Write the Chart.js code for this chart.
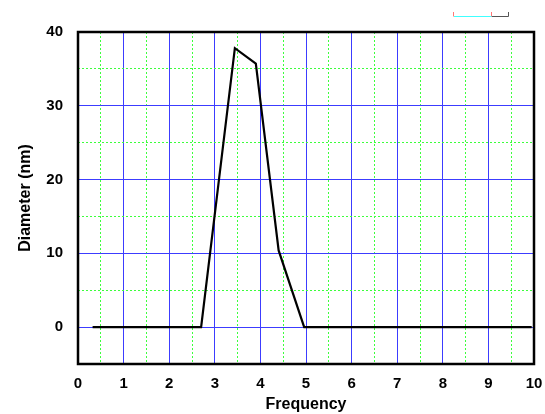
<!DOCTYPE html>
<html>
<head>
<meta charset="utf-8">
<script src="https://cdn.jsdelivr.net/npm/chart.js@4.4.1/dist/chart.umd.min.js"></script>
<style>
  html, body { margin: 0; padding: 0; background: #fff; }
  #wrap { width: 545px; height: 414px; }
</style>
</head>
<body>
<div id="wrap"><canvas id="chart"></canvas></div>
<script>
// Data
const freq = [0.32, 2.70, 3.44, 3.90, 4.40, 4.96, 9.95];
const diameter = [0, 0, 37.8, 35.7, 10.4, 0, 0];
const xRange = [0, 10];
const yRange = [-5, 40];

const points = freq.map(function (f, i) { return { x: f, y: diameter[i] }; });

const majorColor = '#3c3cff';
const minorColor = '#3cff3c';

function isMajor(v, step) {
    return Math.abs(v / step - Math.round(v / step)) < 1e-6;
}

// Black frame around the plot plus the small mark at the top
const framePlugin = {
    id: 'frame',
    afterDraw: function (chart) {
        const a = chart.chartArea;
        const ctx = chart.ctx;
        ctx.save();
        ctx.strokeStyle = '#000';
        ctx.lineWidth = 2.5;
        ctx.strokeRect(a.left, a.top, a.right - a.left, a.bottom - a.top);

        ctx.lineWidth = 1;
        ctx.strokeStyle = '#40ffff';
        ctx.beginPath(); ctx.moveTo(454, 16.5); ctx.lineTo(492, 16.5); ctx.stroke();
        ctx.strokeStyle = '#555';
        ctx.beginPath(); ctx.moveTo(492, 16.5); ctx.lineTo(508.5, 16.5); ctx.lineTo(508.5, 12); ctx.stroke();
        ctx.strokeStyle = '#ff7777';
        ctx.beginPath(); ctx.moveTo(453.5, 12); ctx.lineTo(453.5, 16.5); ctx.stroke();
        ctx.beginPath(); ctx.moveTo(491.5, 12); ctx.lineTo(491.5, 16.5); ctx.stroke();
        ctx.restore();
    }
};

const tickFont = { family: 'Liberation Sans', size: 15, weight: 'bold' };
const titleFont = { family: 'Liberation Sans', size: 16, weight: 'bold' };

const ctx = document.getElementById('chart').getContext('2d');
new Chart(ctx, {
    type: 'line',
    data: {
        datasets: [{
            data: points,
            borderColor: '#000',
            borderWidth: 2.2,
            pointRadius: 0,
            tension: 0,
            fill: false
        }]
    },
    options: {
        responsive: true,
        maintainAspectRatio: false,
        animation: false,
        layout: { padding: { left: 0, right: 11, top: 32, bottom: 0 } },
        plugins: { legend: { display: false }, tooltip: { enabled: false } },
        scales: {
            x: {
                type: 'linear',
                min: xRange[0],
                max: xRange[1],
                afterFit: function (scale) {
                    scale.height = 50;
                    scale.paddingLeft = 0;
                    scale.paddingRight = 0;
                },
                ticks: {
                    stepSize: 0.5,
                    autoSkip: false,
                    maxRotation: 0,
                    padding: 11,
                    color: '#000',
                    font: tickFont,
                    callback: function (v) { return isMajor(v, 1) ? String(v) : ''; }
                },
                grid: {
                    drawTicks: false,
                    lineWidth: 1,
                    color: function (c) { return isMajor(c.tick.value, 1) ? majorColor : minorColor; }
                },
                border: {
                    display: false,
                    dash: function (c) { return c.tick && isMajor(c.tick.value, 1) ? [] : [2, 2]; }
                },
                title: {
                    display: true,
                    text: 'Frequency',
                    color: '#000',
                    font: titleFont,
                    padding: { top: 0, bottom: 0 }
                }
            },
            y: {
                type: 'linear',
                min: yRange[0],
                max: yRange[1],
                afterFit: function (scale) {
                    scale.width = 78;
                    scale.paddingTop = 0;
                    scale.paddingBottom = 0;
                },
                ticks: {
                    stepSize: 5,
                    autoSkip: false,
                    padding: 15,
                    color: '#000',
                    font: tickFont,
                    callback: function (v) { return (isMajor(v, 10) && v >= 0) ? String(v) : ''; }
                },
                grid: {
                    drawTicks: false,
                    lineWidth: 1,
                    color: function (c) { return isMajor(c.tick.value, 10) ? majorColor : minorColor; }
                },
                border: {
                    display: false,
                    dash: function (c) { return c.tick && isMajor(c.tick.value, 10) ? [] : [2, 2]; }
                },
                title: {
                    display: true,
                    text: 'Diameter (nm)',
                    color: '#000',
                    font: titleFont,
                    padding: { top: 16, bottom: 0 }
                }
            }
        }
    },
    plugins: [framePlugin]
});
</script>
</body>
</html>
